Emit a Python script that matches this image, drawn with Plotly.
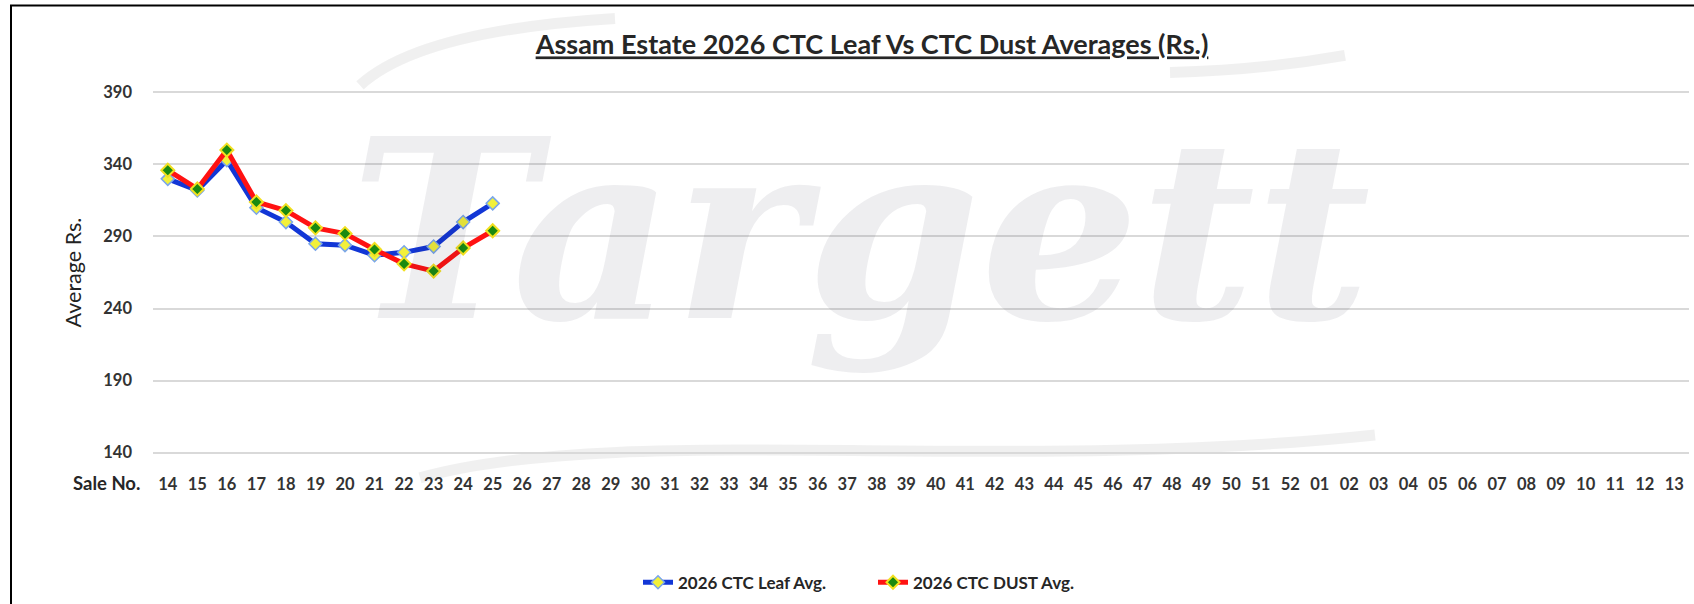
import plotly.graph_objects as go

sale_no = [str(n) for n in range(14, 53)] + ["%02d" % n for n in range(1, 14)]
leaf_sales = ["14", "15", "16", "17", "18", "19", "20", "21", "22", "23", "24", "25"]
leaf_avg = [330, 322, 343, 310, 300, 285, 284, 277, 279, 283, 300, 313]
dust_avg = [336, 323, 350, 314, 308, 296, 292, 281, 271, 266, 282, 294]
y_ticks = [140, 190, 240, 290, 340, 390]

W, H = 1694, 604
ML, MR, MT, MB = 153, 5, 90.6, 149.9
PW, PH = W - ML - MR, H - MT - MB


def px(x):
    return (x - ML) / PW


def py(y):
    return (H - MB - y) / PH


FONT = "Lato"
TXT = "#262626"

fig = go.Figure()
fig.add_trace(go.Scatter(
    x=leaf_sales, y=leaf_avg, name="2026 CTC Leaf Avg.", mode="lines+markers",
    line=dict(color="#1236d6", width=5),
    marker=dict(symbol="diamond", size=10, color="#f2f03a", line=dict(color="#7aa6ea", width=1.5)),
))
fig.add_trace(go.Scatter(
    x=leaf_sales, y=dust_avg, name="2026 CTC DUST Avg.", mode="lines+markers",
    line=dict(color="#ff1212", width=5),
    marker=dict(symbol="diamond", size=10, color="#1a8a10", line=dict(color="#f2e020", width=2)),
))

fig.update_layout(
    width=W, height=H,
    margin=dict(l=ML, r=MR, t=MT, b=MB, autoexpand=False),
    paper_bgcolor="white", plot_bgcolor="white",
    font=dict(family=FONT, color=TXT),
    title=dict(
        text="<u>Assam Estate 2026 CTC Leaf Vs CTC Dust Averages (Rs.)</u>",
        xref="container", yref="container",
        x=872 / W, xanchor="center", y=1 - 45 / H, yanchor="middle",
        font=dict(family=FONT, size=27, weight="bold", color=TXT),
    ),
    xaxis=dict(
        type="category", categoryorder="array", categoryarray=sale_no,
        tickvals=sale_no, ticktext=sale_no, range=[-0.5, len(sale_no) - 0.5],
        showgrid=False, zeroline=False, showline=False, ticks="",
        ticklabelstandoff=18,
        tickfont=dict(family=FONT, size=16.5, weight="bold", color="#333333"),
    ),
    yaxis=dict(
        range=[139, 391], tickvals=y_ticks, showgrid=True, gridcolor="#d9d9d9", gridwidth=1.5,
        zeroline=False, showline=False, ticks="", ticklabelstandoff=20,
        tickfont=dict(family=FONT, size=16.5, weight="bold", color="#333333"),
        title=dict(text="Average Rs.", standoff=15,
                   font=dict(family=FONT, size=21.5, weight="normal", color="#222222")),
    ),
    legend=dict(
        orientation="h", x=px(638), xanchor="left", y=py(583), yanchor="middle",
        font=dict(family=FONT, size=17, weight="bold", color=TXT),
        entrywidth=190, bgcolor="rgba(0,0,0,0)",
    ),
    showlegend=True,
)

# "Sale No." label
fig.add_annotation(
    text="Sale No.", xref="paper", yref="paper", x=px(142), y=py(483),
    xanchor="right", yanchor="middle", showarrow=False,
    font=dict(family=FONT, size=18.5, weight="bold", color=TXT),
)

# faint watermark
fig.add_annotation(
    text="Targett", xref="paper", yref="paper", x=px(860), y=py(230),
    xanchor="center", yanchor="middle", showarrow=False,
    font=dict(family="DejaVu Serif", size=250, weight="bold", style="italic",
              color="rgba(40,40,70,0.08)"),
)


def path_shape(d):
    fig.add_shape(type="path", xref="paper", yref="paper", layer="below", path=d,
                  line=dict(color="rgba(0,0,0,0.06)", width=11))


# faint swooshes of the logo
path_shape("M %f,%f Q %f,%f %f,%f" % (px(360), py(85), px(420), py(30), px(615), py(18)))
path_shape("M %f,%f Q %f,%f %f,%f" % (px(1170), py(72), px(1260), py(70), px(1345), py(55)))
path_shape("M %f,%f C %f,%f %f,%f %f,%f" % (px(420), py(478), px(620), py(422),
                                              px(1000), py(475), px(1375), py(435)))

# chart frame
fig.add_shape(type="rect", xref="paper", yref="paper",
              x0=px(11), x1=px(1720), y0=py(640), y1=py(5),
              line=dict(color="black", width=2), layer="above")

fig.write_html("out.html", config={"displayModeBar": False},
               post_script="document.body.style.margin='0';")
